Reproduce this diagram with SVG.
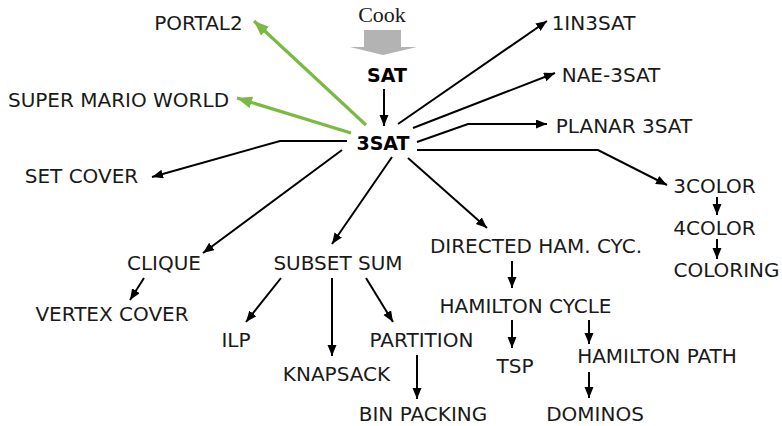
<svg xmlns="http://www.w3.org/2000/svg" width="782" height="426" viewBox="0 0 782 426">
<style>
text{font-family:"DejaVu Sans","Liberation Sans",sans-serif;font-size:20px;fill:#1a1a1a;text-anchor:middle}
.b{font-weight:bold;font-size:19px;fill:#000}
.serif{font-family:"Liberation Serif",serif;font-size:22px}
.e{fill:none;stroke:#000;stroke-width:2;marker-end:url(#ah)}
.g{fill:none;stroke:#7ab943;stroke-width:3.2;marker-end:url(#gh)}
</style>
<defs>
<marker id="ah" markerUnits="userSpaceOnUse" markerWidth="12" markerHeight="10" refX="11" refY="4.5" orient="auto"><path d="M0,0 L11,4.5 L0,9 z" fill="#000"/></marker>
<marker id="gh" markerUnits="userSpaceOnUse" markerWidth="16" markerHeight="13" refX="15" refY="6" orient="auto"><path d="M0,0 L15,6 L0,12 z" fill="#7ab943"/></marker>
</defs>
<g id="cook">
<text class="serif" x="382" y="22">Cook</text>
<polygon points="364,30 401,30 401,47 417,47 383,55 350,47 364,47" fill="#b3b3b3"/>
</g>
<g id="connectors">
<path class="g" d="M366,125 L254,21"/>
<path class="g" d="M351,133 L237,98"/>
<path class="e" d="M384,89 L384,126"/>
<path class="e" d="M347,141 L280,141 L152,177"/>
<path class="e" d="M398,124 L547,21"/>
<path class="e" d="M413,128 L555,73"/>
<path class="e" d="M417,142 L468,124 L547,124"/>
<path class="e" d="M417,150 L598,150 L667,185"/>
<path class="e" d="M408,158 L487,228"/>
<path class="e" d="M392,157 L332,244"/>
<path class="e" d="M342,150 L203,253"/>
<path class="e" d="M144,278 L130,300"/>
<path class="e" d="M281,278 L246,322"/>
<path class="e" d="M332,278 L332,356"/>
<path class="e" d="M366,278 L393,322"/>
<path class="e" d="M417,355 L417,399"/>
<path class="e" d="M512,261 L512,288"/>
<path class="e" d="M512,320 L512,348"/>
<path class="e" d="M589,320 L589,344"/>
<path class="e" d="M589,372 L589,398"/>
<path class="e" d="M717,197 L717,215"/>
<path class="e" d="M717,239 L717,259"/>
</g>
<g id="n-portal2"><text x="198.5" y="30">PORTAL2</text></g>
<g id="n-smw"><text x="118.5" y="107">SUPER MARIO WORLD</text></g>
<g id="n-setcover"><text x="81.5" y="183">SET COVER</text></g>
<g id="n-sat"><text class="b" x="387" y="82">SAT</text></g>
<g id="n-3sat"><text class="b" x="383" y="150">3SAT</text></g>
<g id="n-1in3sat"><text x="593.5" y="30">1IN3SAT</text></g>
<g id="n-nae3sat"><text x="611" y="82">NAE-3SAT</text></g>
<g id="n-planar"><text x="624" y="133">PLANAR 3SAT</text></g>
<g id="n-3color"><text x="714.5" y="193">3COLOR</text></g>
<g id="n-4color"><text x="714.5" y="235">4COLOR</text></g>
<g id="n-coloring"><text x="726.5" y="277">COLORING</text></g>
<g id="n-dhc"><text x="536" y="253">DIRECTED HAM. CYC.</text></g>
<g id="n-hc"><text x="525.5" y="313">HAMILTON CYCLE</text></g>
<g id="n-hp"><text x="657" y="363">HAMILTON PATH</text></g>
<g id="n-tsp"><text x="515" y="373">TSP</text></g>
<g id="n-partition"><text x="421.5" y="347">PARTITION</text></g>
<g id="n-binpacking"><text x="423" y="421">BIN PACKING</text></g>
<g id="n-dominos"><text x="595" y="421">DOMINOS</text></g>
<g id="n-clique"><text x="164" y="270">CLIQUE</text></g>
<g id="n-subsetsum"><text x="338" y="270">SUBSET SUM</text></g>
<g id="n-vertexcover"><text x="112" y="321">VERTEX COVER</text></g>
<g id="n-ilp"><text x="236" y="347">ILP</text></g>
<g id="n-knapsack"><text x="336.5" y="381">KNAPSACK</text></g>
</svg>
